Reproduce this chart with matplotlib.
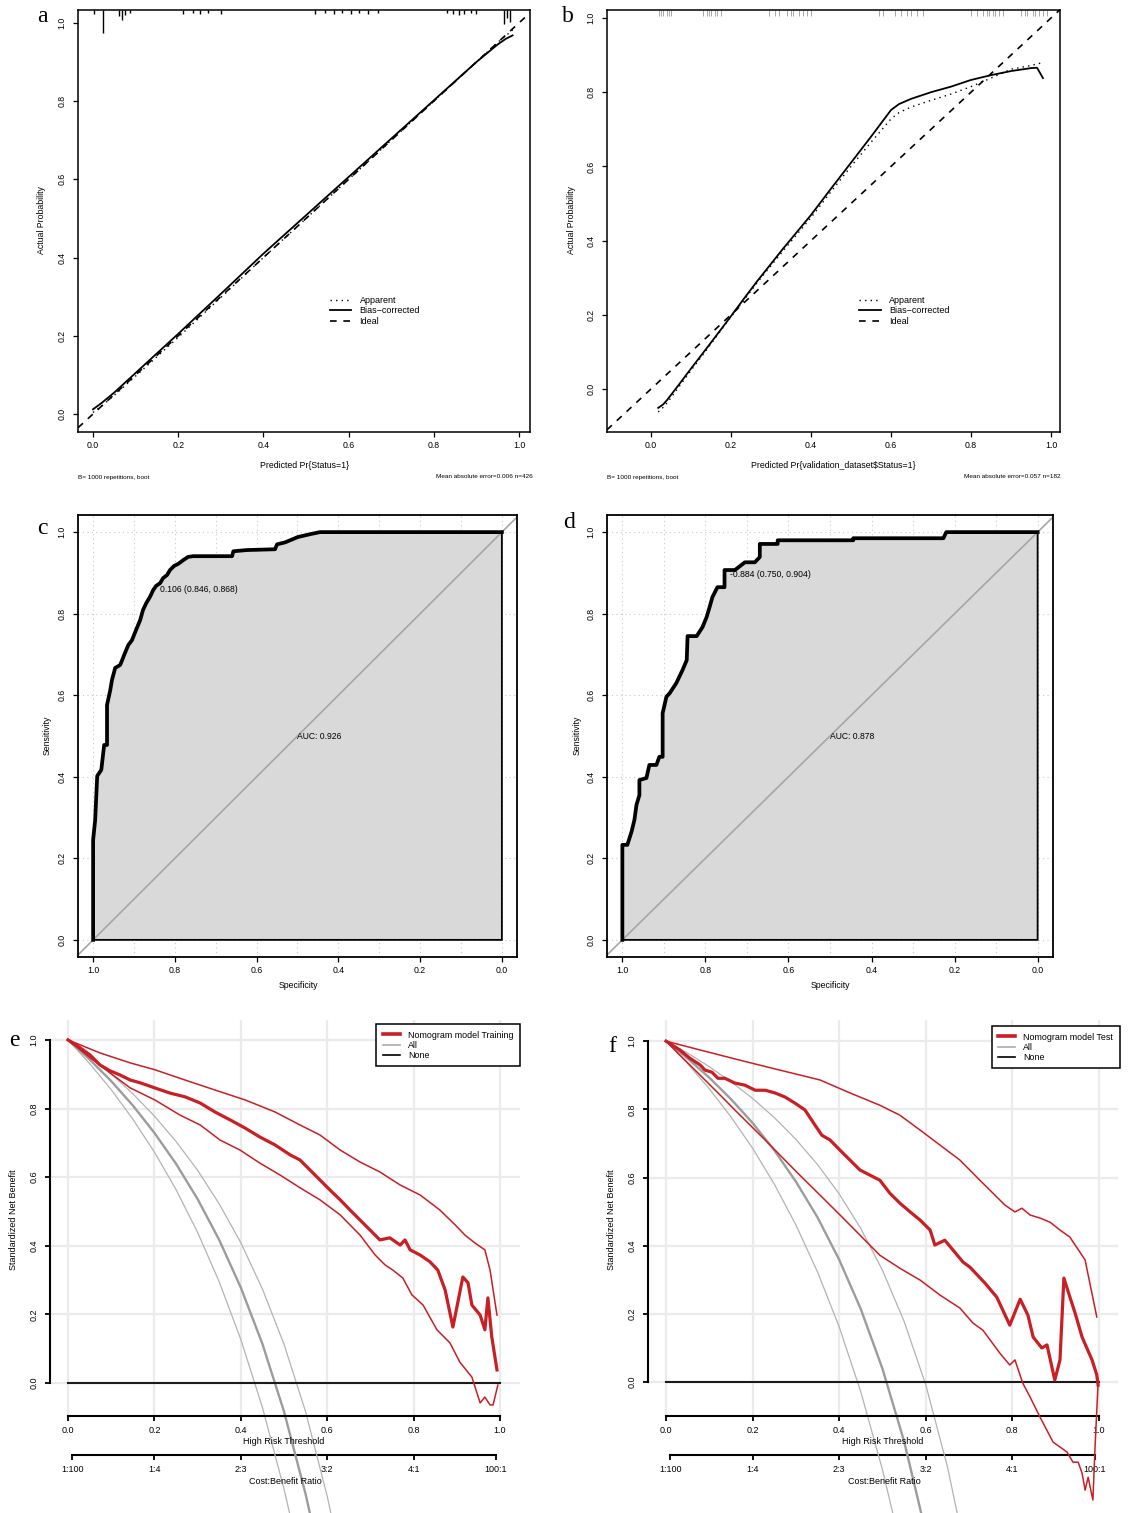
import matplotlib
matplotlib.use("Agg")
import matplotlib.pyplot as plt
from matplotlib.lines import Line2D
import numpy as np

plt.rcParams['font.family'] = ['Liberation Sans', 'DejaVu Sans']
plt.rcParams['font.size'] = 6.3

W, H = 1131, 1513

# ---------------- data ----------------
# calibration, training (a)
cal_a_pred = [0.0, 0.02, 0.05, 0.1, 0.2, 0.3, 0.4, 0.5, 0.6, 0.7, 0.8, 0.9, 0.95, 0.97, 0.985]
cal_a_bias = [0.012, 0.028, 0.055, 0.105, 0.205, 0.307, 0.410, 0.508, 0.606, 0.704, 0.802, 0.900, 0.945, 0.960, 0.968]
cal_a_apparent = [0.004, 0.020, 0.048, 0.097, 0.196, 0.298, 0.400, 0.500, 0.600, 0.700, 0.800, 0.900, 0.950, 0.968, 0.982]
rug_a_pos = [0.003, 0.023, 0.062, 0.068, 0.075, 0.088, 0.212, 0.235, 0.252, 0.27, 0.30, 0.52, 0.545, 0.565,
             0.585, 0.605, 0.625, 0.645, 0.668, 0.83, 0.845, 0.86, 0.872, 0.888, 0.90, 0.965, 0.972, 0.98]
rug_a_height = [0.010, 0.059, 0.015, 0.025, 0.012, 0.008, 0.010, 0.008, 0.010, 0.008, 0.010, 0.010, 0.008, 0.010,
                0.008, 0.010, 0.008, 0.010, 0.008, 0.008, 0.010, 0.012, 0.010, 0.008, 0.010, 0.036, 0.020, 0.030]

# calibration, validation (b)
cal_b_pred = [0.018, 0.03, 0.04, 0.07, 0.1, 0.14, 0.19, 0.23, 0.265, 0.33, 0.4, 0.45, 0.5, 0.55, 0.6, 0.62, 0.65,
              0.7, 0.75, 0.8, 0.85, 0.9, 0.95, 0.965, 0.98]
cal_b_bias = [-0.051, -0.042, -0.030, 0.012, 0.055, 0.111, 0.182, 0.240, 0.290, 0.378, 0.469, 0.540, 0.610, 0.680,
              0.752, 0.768, 0.782, 0.800, 0.815, 0.833, 0.846, 0.857, 0.865, 0.866, 0.838]
cal_b_apparent = [-0.062, -0.050, -0.038, 0.006, 0.050, 0.107, 0.180, 0.236, 0.286, 0.372, 0.462, 0.532, 0.600,
                  0.665, 0.728, 0.745, 0.760, 0.778, 0.795, 0.815, 0.838, 0.862, 0.872, 0.876, 0.880]
rug_b_pos = [0.02, 0.025, 0.03, 0.04, 0.045, 0.05, 0.13, 0.14, 0.145, 0.15, 0.16, 0.165, 0.175,
             0.295, 0.31, 0.32, 0.34, 0.35, 0.355, 0.37, 0.38, 0.39, 0.40,
             0.57, 0.58, 0.61, 0.625, 0.64, 0.65, 0.665, 0.68,
             0.80, 0.815, 0.83, 0.84, 0.845, 0.855, 0.86, 0.87, 0.88,
             0.925, 0.935, 0.94, 0.955, 0.96, 0.97, 0.98, 0.99]

# ROC training (c)
roc_c_spec = [1.000, 1.000, 0.995, 0.990, 0.980, 0.973, 0.966, 0.966, 0.958, 0.954, 0.946, 0.934, 0.929, 0.924,
              0.914, 0.905, 0.895, 0.885, 0.878, 0.870, 0.861, 0.853, 0.846, 0.836, 0.829, 0.819, 0.812, 0.802,
              0.792, 0.780, 0.768, 0.756, 0.660, 0.657, 0.624, 0.555, 0.550, 0.530, 0.499, 0.469, 0.445, 0.000]
roc_c_sens = [0.000, 0.245, 0.294, 0.402, 0.417, 0.478, 0.478, 0.576, 0.613, 0.637, 0.667, 0.674, 0.686, 0.699,
              0.723, 0.735, 0.760, 0.784, 0.809, 0.826, 0.841, 0.858, 0.868, 0.875, 0.887, 0.895, 0.907, 0.917,
              0.922, 0.931, 0.939, 0.941, 0.941, 0.953, 0.956, 0.958, 0.970, 0.975, 0.988, 0.995, 1.000, 1.000]
thr_c = (0.846, 0.868)
thr_c_label = '0.106 (0.846, 0.868)'
auc_c = 'AUC: 0.926'

# ROC validation (d)
roc_d_spec = [1.000, 1.000, 0.988, 0.978, 0.971, 0.966, 0.959, 0.959, 0.942, 0.935, 0.918, 0.911, 0.903, 0.903,
              0.894, 0.886, 0.870, 0.855, 0.845, 0.843, 0.821, 0.807, 0.797, 0.790, 0.783, 0.771, 0.754, 0.754,
              0.729, 0.705, 0.681, 0.669, 0.669, 0.626, 0.626, 0.444, 0.444, 0.227, 0.220, 0.000]
roc_d_sens = [0.000, 0.233, 0.233, 0.265, 0.294, 0.331, 0.355, 0.392, 0.397, 0.429, 0.429, 0.449, 0.449, 0.556,
              0.596, 0.605, 0.630, 0.662, 0.686, 0.745, 0.745, 0.767, 0.792, 0.816, 0.841, 0.865, 0.865, 0.907,
              0.907, 0.926, 0.926, 0.939, 0.971, 0.971, 0.980, 0.980, 0.985, 0.985, 1.000, 1.000]
thr_d = (0.750, 0.904)
thr_d_label = '-0.884 (0.750, 0.904)'
auc_d = 'AUC: 0.878'

# decision curve, training (e)
dca_e_thr = [0, .028, .051, .074, .097, .120, .144, .167, .201, .236, .271, .306, .340, .375, .410, .444, .479,
             .514, .537, .560, .583, .606, .630, .653, .676, .699, .722, .745, .769, .780, .792, .815, .838, .856,
             .873, .891, .914, .926, .935, .954, .965, .972, .981, .993]
dca_e_nb = [1.0, .977, .956, .927, .910, .898, .883, .875, .860, .845, .834, .816, .790, .767, .743, .717, .694,
            .665, .650, .621, .592, .563, .534, .504, .475, .446, .417, .423, .402, .417, .388, .373, .353, .329,
            .271, .163, .309, .292, .227, .198, .155, .248, .134, .038]
dca_e_hi_thr = [0, .074, .144, .201, .271, .340, .410, .479, .537, .583, .630, .676, .722, .769, .815, .861, .896,
                .919, .942, .965, .977, .993]
dca_e_hi = [1.0, .962, .933, .913, .883, .854, .825, .790, .752, .723, .679, .644, .615, .577, .548, .504, .461,
            .431, .408, .388, .329, .198]
dca_e_lo_thr = [0, .051, .097, .144, .201, .259, .306, .352, .398, .444, .491, .537, .583, .630, .676, .711, .734,
                .752, .775, .796, .822, .854, .884, .907, .935, .954, .965, .977, .984, .995]
dca_e_lo = [1.0, .948, .904, .860, .825, .781, .752, .708, .679, .641, .606, .569, .534, .490, .431, .373, .344,
            .329, .306, .257, .227, .155, .117, .061, .017, -.058, -.041, -.064, -.064, -.006]
all_e_thr = [0, .05, .1, .15, .2, .25, .3, .35, .4, .45, .5, .55, .57]
all_e_nb = [1.0, .943, .880, .809, .729, .639, .536, .417, .278, .114, -.083, -.324, -.436]
all_e_lo_thr = [0, .05, .1, .15, .2, .25, .3, .35, .4, .45, .5, .52]
all_e_lo = [1.0, .931, .855, .769, .673, .564, .439, .295, .127, -.071, -.309, -.418]
all_e_hi_thr = [0, .05, .1, .15, .2, .25, .3, .35, .4, .45, .5, .55, .6, .62]
all_e_hi = [1.0, .953, .901, .843, .778, .704, .620, .522, .409, .274, .113, -.084, -.330, -.447]

# decision curve, test (f)
dca_f_thr = [0, .032, .055, .079, .090, .106, .120, .136, .159, .182, .206, .229, .252, .275, .298, .321, .344,
             .360, .379, .402, .425, .448, .471, .494, .517, .540, .564, .587, .610, .621, .644, .667, .686, .702,
             .737, .764, .794, .818, .836, .848, .868, .880, .898, .910, .919, .933, .945, .961, .984, .995, .998]
dca_f_nb = [1.0, .974, .950, .930, .915, .909, .891, .891, .877, .871, .856, .856, .848, .836, .818, .798, .754,
            .724, .710, .680, .651, .622, .607, .592, .554, .525, .499, .475, .446, .402, .416, .381, .352, .337,
            .290, .249, .167, .243, .196, .132, .100, .109, .006, .065, .305, .249, .202, .132, .065, .021, -.009]
dca_f_hi_thr = [0, .079, .171, .263, .356, .425, .494, .540, .587, .633, .679, .725, .760, .783, .806, .822, .841,
                .864, .887, .910, .933, .956, .968, .995]
dca_f_hi = [1.0, .974, .944, .915, .886, .848, .812, .783, .739, .695, .651, .592, .548, .519, .499, .510, .490,
            .481, .469, .446, .425, .381, .358, .191]
dca_f_lo_thr = [0, .032, .067, .102, .125, .159, .194, .229, .263, .309, .356, .402, .448, .494, .540, .587, .633,
                .679, .709, .732, .771, .794, .806, .824, .841, .864, .894, .926, .940, .952, .961, .968, .975,
                .986, .991, .998]
dca_f_lo = [1.0, .959, .915, .871, .842, .798, .754, .710, .666, .607, .548, .490, .431, .372, .334, .299, .255,
            .217, .173, .152, .085, .050, .065, -.003, -.044, -.103, -.176, -.205, -.235, -.235, -.267, -.317,
            -.279, -.346, -.191, -.003]
all_f_thr = [0, .05, .1, .15, .2, .25, .3, .35, .4, .45, .5, .55, .6]
all_f_nb = [1.0, .949, .893, .830, .760, .680, .588, .483, .359, .214, .039, -.174, -.441]
all_f_lo_thr = [0, .05, .1, .15, .2, .25, .3, .35, .4, .45, .5, .53]
all_f_lo = [1.0, .934, .860, .778, .686, .581, .461, .323, .162, -.029, -.257, -.418]
all_f_hi_thr = [0, .05, .1, .15, .2, .25, .3, .35, .4, .45, .5, .55, .6, .65, .68]
all_f_hi = [1.0, .965, .925, .881, .832, .776, .712, .638, .552, .450, .328, .178, -.008, -.248, -.429]

none_thr = [0, 1]
none_nb = [0, 0]

ticks = [0, 0.2, 0.4, 0.6, 0.8, 1.0]
tick_labels = ['0.0', '0.2', '0.4', '0.6', '0.8', '1.0']
cb_ticks = [1 / 101, 0.2, 0.4, 0.6, 0.8, 100 / 101]
cb_labels = ['1:100', '1:4', '2:3', '3:2', '4:1', '100:1']

RED = '#C81E24'

# ---------------- figure ----------------
fig = plt.figure(figsize=(W / 100, H / 100), dpi=100)


def px(x0, y0, x1, y1):
    # pixel box -> figure fraction rect
    return [x0 / W, 1 - y1 / H, (x1 - x0) / W, (y1 - y0) / H]


def ftext(x, y, s, **kw):
    kw.setdefault('ha', 'center')
    kw.setdefault('va', 'center')
    fig.text(x / W, 1 - y / H, s, **kw)


def r_ticks(ax, size=6.3):
    ax.tick_params(direction='out', length=3.6, width=0.9, labelsize=size, pad=3.2)
    ax.tick_params(axis='y', labelrotation=90, pad=4.8)
    for t in ax.get_yticklabels():
        t.set_va('center')


def calib(ax, pred, app, bias, rug_x, rug_h, rug_col, rug_lw, xlim, ylim):
    ax.set_xlim(xlim)
    ax.set_ylim(ylim)
    ax.vlines(rug_x, ylim[1] - np.asarray(rug_h), ylim[1], color=rug_col, lw=rug_lw)
    l1, = ax.plot(pred, app, color='k', lw=1.0, ls=(0, (1, 3)))
    l2, = ax.plot(pred, bias, color='k', lw=1.3)
    l3 = ax.axline((0, 0), (1, 1), color='k', lw=1.2, ls=(0, (4, 4)))
    ax.legend([l1, l2, l3], ['Apparent', 'Bias\u2212corrected', 'Ideal'], loc='upper left',
              bbox_to_anchor=(0.557, 0.322), frameon=False, fontsize=6.5, handlelength=2.4,
              handletextpad=0.9, labelspacing=0.15, borderpad=0, borderaxespad=0)
    ax.set_xticks(ticks, tick_labels)
    ax.set_yticks(ticks, tick_labels)
    for s in ax.spines.values():
        s.set_linewidth(1.1)
    r_ticks(ax)


def roc(ax, spec, sens, thr, thr_label, auc_label):
    ax.set_xlim(1.037, -0.037)
    ax.set_ylim(-0.042, 1.042)
    ax.vlines(np.arange(0, 1.01, 0.1), -0.042, 1.042, color='#c8c8c8', lw=0.8, ls=(0, (1, 3)), zorder=0)
    ax.hlines(ticks, 1.037, -0.037, color='#c8c8c8', lw=0.8, ls=(0, (1, 3)), zorder=0)
    ax.fill(list(spec) + [0.0], list(sens) + [0.0], facecolor='#d9d9d9', edgecolor='k', lw=1.3, zorder=1)
    ax.axline((1, 0), (0, 1), color='#a6a6a6', lw=1.2, zorder=2)
    ax.plot(spec, sens, color='k', lw=2.7, zorder=3)
    ax.annotate(thr_label, xy=thr, xytext=(2.5, -2.5), textcoords='offset points',
                ha='left', va='center', fontsize=6.2, zorder=4)
    ax.text(0.5, 0.5, auc_label, ha='left', va='center', fontsize=6.2, zorder=4)
    ax.set_xticks(ticks, tick_labels)
    ax.set_yticks(ticks, tick_labels)
    for s in ax.spines.values():
        s.set_linewidth(1.3)
    r_ticks(ax)


def dca(ax, xlim, ylim, y_thr, y_cb, curves, legend_label, legend_anchor):
    ax.set_xlim(xlim)
    ax.set_ylim(ylim)
    for s in ['top', 'right']:
        ax.spines[s].set_visible(False)
    ax.vlines(ticks, y_thr, ylim[1], color='#ebebeb', lw=1.6, zorder=0)
    ax.hlines(ticks, xlim[0], xlim[1], color='#ebebeb', lw=1.6, zorder=0)

    (m_t, m_nb), (h_t, h_nb), (l_t, l_nb), (a_t, a_nb), (al_t, al_nb), (ah_t, ah_nb) = curves
    ax.plot(al_t, al_nb, color='#b3b3b3', lw=0.9, zorder=2)
    ax.plot(ah_t, ah_nb, color='#b3b3b3', lw=0.9, zorder=2)
    ax.plot(a_t, a_nb, color='#9c9c9c', lw=1.7, zorder=2)
    ax.plot(none_thr, none_nb, color='#1a1a1a', lw=1.5, zorder=3)
    ax.plot(h_t, h_nb, color=RED, lw=1.1, zorder=4)
    ax.plot(l_t, l_nb, color=RED, lw=1.1, zorder=4)
    ax.plot(m_t, m_nb, color=RED, lw=2.3, zorder=5)

    handles = [Line2D([], [], color=RED, lw=2.6), Line2D([], [], color='#aaaaaa', lw=1.2),
               Line2D([], [], color='k', lw=1.2)]
    leg = ax.legend(handles, [legend_label, 'All', 'None'], loc='upper right', bbox_to_anchor=legend_anchor,
                    fontsize=6.4, frameon=True, fancybox=False, edgecolor='k', framealpha=1,
                    handlelength=1.9, handletextpad=0.9, labelspacing=0.12, borderpad=0.75, borderaxespad=0)
    leg.get_frame().set_linewidth(1.1)
    leg.set_zorder(6)

    ax.spines['left'].set_bounds(0, 1)
    ax.spines['left'].set_linewidth(1.5)
    ax.spines['bottom'].set_position(('data', y_thr))
    ax.spines['bottom'].set_bounds(0, 1)
    ax.spines['bottom'].set_linewidth(1.5)
    ax.set_xticks(ticks, tick_labels)
    ax.set_yticks(ticks, tick_labels)
    ax.tick_params(direction='out', length=3.6, width=1.3, labelsize=6.5, pad=3.4)
    ax.tick_params(axis='y', labelrotation=90, pad=4.5)
    for t in ax.get_yticklabels():
        t.set_va('center')

    sec = ax.secondary_xaxis((y_cb - ylim[0]) / (ylim[1] - ylim[0]))
    sec.set_xticks(cb_ticks, cb_labels)
    sec.spines['bottom'].set_bounds(cb_ticks[0], cb_ticks[-1])
    sec.spines['bottom'].set_linewidth(1.5)
    sec.tick_params(direction='out', length=3.6, width=1.3, labelsize=6.5, pad=3.4)


# a
ax_a = fig.add_axes(px(78, 10, 530, 432))
calib(ax_a, cal_a_pred, cal_a_apparent, cal_a_bias, rug_a_pos, rug_a_height, 'k', 1.0,
      (-0.0352, 1.0258), (-0.046, 1.033))
ftext(305, 465, 'Predicted Pr{Status=1}')
ftext(42, 220, 'Actual Probability', rotation=90)
ftext(78, 477, 'B= 1000 repetitions, boot', fontsize=4.6, ha='left')
ftext(533, 477, 'Mean absolute error=0.006 n=426', fontsize=4.6, ha='right')

# b
ax_b = fig.add_axes(px(607, 10, 1060, 432))
calib(ax_b, cal_b_pred, cal_b_apparent, cal_b_bias, rug_b_pos, 0.015, '#999999', 0.6,
      (-0.11, 1.0225), (-0.116, 1.0216))
ftext(833, 465, 'Predicted Pr{validation_dataset$Status=1}')
ftext(572, 220, 'Actual Probability', rotation=90)
ftext(607, 477, 'B= 1000 repetitions, boot', fontsize=4.6, ha='left')
ftext(1060, 477, 'Mean absolute error=0.057 n=182', fontsize=4.6, ha='right')

# c
ax_c = fig.add_axes(px(78, 515, 517, 957))
roc(ax_c, roc_c_spec, roc_c_sens, thr_c, thr_c_label, auc_c)
ftext(298, 986, 'Specificity')
ftext(47, 735, 'Sensitivity', rotation=90)

# d
ax_d = fig.add_axes(px(607, 515, 1053, 957))
roc(ax_d, roc_d_spec, roc_d_sens, thr_d, thr_d_label, auc_d)
ftext(830, 986, 'Specificity')
ftext(577, 735, 'Sensitivity', rotation=90)

# e
ax_e = fig.add_axes(px(50, 1020, 520, 1513))
dca(ax_e, (-0.0417, 1.0463), (-0.379, 1.058), -0.096, -0.210,
    [(dca_e_thr, dca_e_nb), (dca_e_hi_thr, dca_e_hi), (dca_e_lo_thr, dca_e_lo),
     (all_e_thr, all_e_nb), (all_e_lo_thr, all_e_lo), (all_e_hi_thr, all_e_hi)],
    'Nomogram model Training', (1.0, 0.992))
ftext(284, 1442, 'High Risk Threshold', fontsize=6.5)
ftext(285, 1481, 'Cost:Benefit Ratio', fontsize=6.5)
ftext(14, 1220, 'Standardized Net Benefit', fontsize=6.5, rotation=90)

# f
ax_f = fig.add_axes(px(648, 1020, 1118, 1513))
dca(ax_f, (-0.0416, 1.044), (-0.384, 1.062), -0.100, -0.214,
    [(dca_f_thr, dca_f_nb), (dca_f_hi_thr, dca_f_hi), (dca_f_lo_thr, dca_f_lo),
     (all_f_thr, all_f_nb), (all_f_lo_thr, all_f_lo), (all_f_hi_thr, all_f_hi)],
    'Nomogram model Test', (1.004, 0.988))
ftext(883, 1442, 'High Risk Threshold', fontsize=6.5)
ftext(884, 1481, 'Cost:Benefit Ratio', fontsize=6.5)
ftext(611, 1220, 'Standardized Net Benefit', fontsize=6.5, rotation=90)

# panel letters
for x, y, s in [(42, 16, 'a'), (568, 17, 'b'), (42, 528, 'c'), (569, 523, 'd'), (14, 1040, 'e'), (612, 1046, 'f')]:
    ftext(x, y, s, fontsize=17, family='Liberation Serif')

fig.savefig('out.png', dpi=100)
